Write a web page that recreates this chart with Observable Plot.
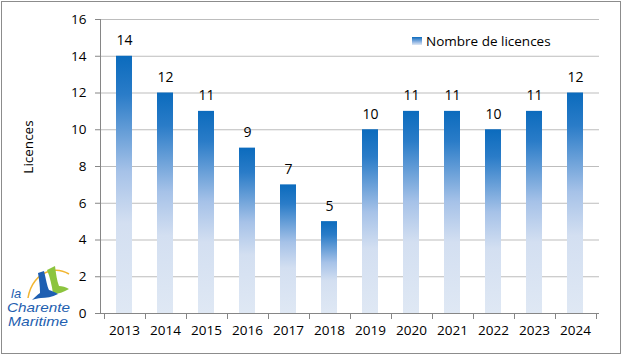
<!DOCTYPE html>
<html>
<head>
<meta charset="utf-8">
<script src="https://cdn.jsdelivr.net/npm/d3@7"></script>
<script src="https://cdn.jsdelivr.net/npm/@observablehq/plot@0.6"></script>
<style>
  html, body { margin: 0; padding: 0; background: #fff; }
  #wrap { position: relative; width: 622px; height: 355px; overflow: hidden; background: #fff; font-family: "Open Sans", sans-serif; }
  #border { position: absolute; left: 1px; top: 1px; width: 620px; height: 353px; box-sizing: border-box; border: 1px solid #8c8c8c; pointer-events: none; }
  #chart { position: absolute; left: 0; top: 0; }
  #chart [aria-label^="y-axis"] path, #chart [aria-label^="y-axis"] line { stroke: #868686; }
  #chart text { fill: #000; }
  #ytitle { position: absolute; left: 28px; top: 147px; transform: translate(-50%, -50%) rotate(-90deg); font-size: 13.5px; white-space: nowrap; color: #000; }
  #legend { position: absolute; left: 412px; top: 32px; font-size: 13.5px; display: flex; align-items: center; color: #000; }
  #legend .sw { width: 10px; height: 8px; margin-right: 4px; background: linear-gradient(#0b6bbd, #8fb4e2 60%, #dfe8f4); }
  #logo { position: absolute; left: 0; top: 250px; }
</style>
</head>
<body>
<div id="wrap">
  <div id="chart"></div>
  <div id="ytitle">Licences</div>
  <div id="legend"><div class="sw"></div><span>Nombre de licences</span></div>
  <svg id="logo" width="100" height="85" viewBox="0 250 100 85">
    <path d="M28,298 C30,285 38,274 50,271 C57,269 64,271 69,274" fill="none" stroke="#f2b632" stroke-width="1.5"/>
    <path d="M47,270 L55,266 C56,274 57,281 59,286 C62,286 66,287 69,289 C64,292 58,294 53,294 C52,286 50,277 47,270 Z" fill="#8cc43e"/>
    <path d="M38,273 L44,271 C46,279 47,286 49,290 C52,291 55,292 58,294 C52,297 46,298 41,298 C38,298 35,299 32,300 C35,297 37,295 40,293 C40,286 39,279 38,273 Z" fill="#1e5fb2"/>
    <text x="11" y="298" font-family="Liberation Sans" font-style="italic" font-size="13" fill="#1f5fb0">la</text>
    <text x="7" y="312" font-family="Liberation Sans" font-style="italic" font-size="13" fill="#1f5fb0" textLength="63" lengthAdjust="spacingAndGlyphs">Charente</text>
    <text x="8" y="326" font-family="Liberation Sans" font-style="italic" font-size="13" fill="#1f5fb0" textLength="60" lengthAdjust="spacingAndGlyphs">Maritime</text>
  </svg>
  <div id="border"></div>
</div>
<script>
const years = ["2013","2014","2015","2016","2017","2018","2019","2020","2021","2022","2023","2024"];
const licences = [14, 12, 11, 9, 7, 5, 10, 11, 11, 10, 11, 12];
const yTicks = [0, 2, 4, 6, 8, 10, 12, 14, 16];

const data = years.map((year, i) => ({year, value: licences[i]}));

function gradientDefs() {
  const defs = d3.create("svg:defs");
  const g = defs.append("linearGradient")
    .attr("id", "barGrad").attr("x1", 0).attr("y1", 0).attr("x2", 0).attr("y2", 1);
  [[0, "#0b6bbd"], [0.15, "#2a7cc8"], [0.45, "#a6c2e8"], [0.65, "#d3dff1"], [1, "#dfe8f4"]]
    .forEach(([o, c]) => g.append("stop").attr("offset", o).attr("stop-color", c));
  return defs.node();
}

function axisLines(index, scales, values, dims) {
  const x = scales.x;
  const g = d3.create("svg:g").attr("stroke", "#868686").attr("stroke-width", 1);
  const left = dims.marginLeft, right = dims.width - dims.marginRight;
  const top = dims.marginTop, bottom = dims.height - dims.marginBottom;
  g.append("line").attr("x1", left + 0.5).attr("x2", left + 0.5).attr("y1", top).attr("y2", bottom);
  g.append("line").attr("x1", left).attr("x2", right).attr("y1", bottom + 0.5).attr("y2", bottom + 0.5);
  const bounds = years.map(d => x(d) + x.bandwidth() / 2 - x.step() / 2);
  bounds.push(x(years[years.length - 1]) + x.bandwidth() / 2 + x.step() / 2);
  bounds.forEach(b => {
    const px = Math.round(b) + 0.5;
    g.append("line").attr("x1", px).attr("x2", px).attr("y1", bottom).attr("y2", bottom + 6);
  });
  return g.node();
}

const chart = Plot.plot({
  width: 622,
  height: 355,
  marginLeft: 100,
  marginRight: 23,
  marginTop: 19,
  marginBottom: 42,
  style: {fontFamily: "Open Sans", fontSize: "13.5px", color: "#000", background: "transparent", overflow: "visible"},
  x: {domain: years, paddingInner: 0.6, paddingOuter: 0.3, tickSize: 0, tickPadding: 12, label: null},
  y: {domain: [0, 16], ticks: yTicks, tickSize: 5, tickPadding: 9, label: null},
  marks: [
    gradientDefs,
    Plot.ruleY(yTicks.filter(t => t > 0), {stroke: "#bdbdbd", strokeWidth: 1}),
    Plot.barY(data, {x: "year", y: "value", fill: "url(#barGrad)"}),
    axisLines,
    Plot.text(data, {x: "year", y: "value", text: d => String(d.value), lineAnchor: "bottom", dy: -11, fontSize: 14, fill: "#000"})
  ]
});
document.getElementById("chart").appendChild(chart);
</script>
</body>
</html>
